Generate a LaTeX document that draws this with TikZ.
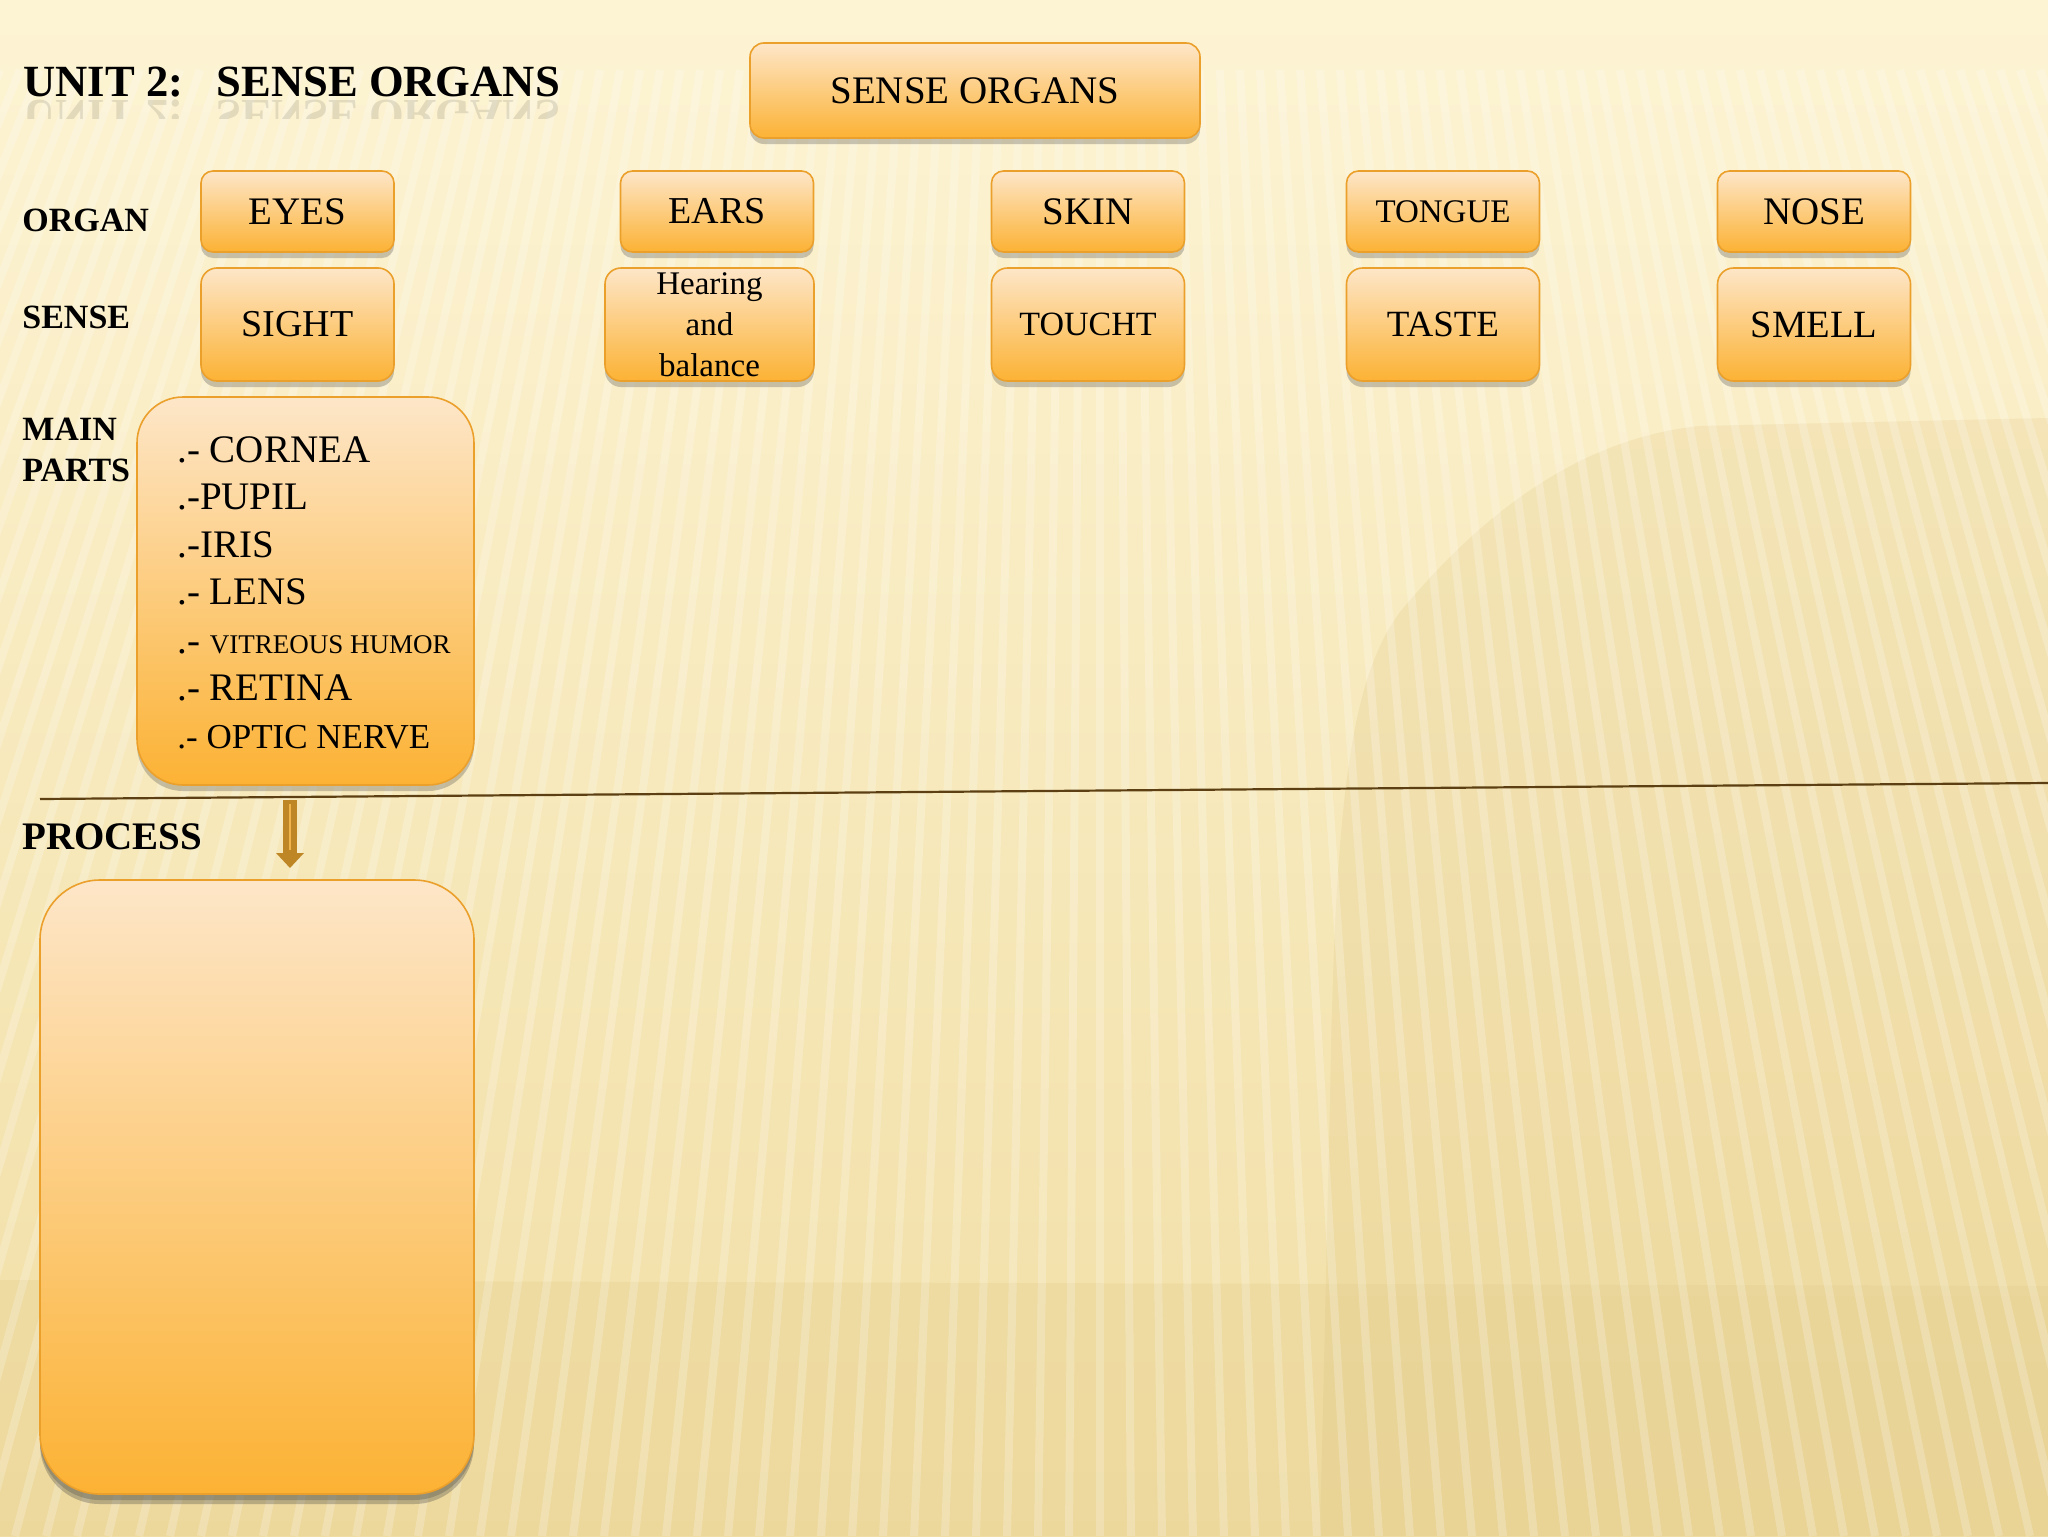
\documentclass[tikz,border=0pt]{standalone}
\usepackage{fontspec}
\setmainfont{Liberation Serif}
\usetikzlibrary{shadows,calc,arrows.meta}

\definecolor{boxtop}{HTML}{FDE6C8}
\definecolor{boxbot}{HTML}{FCB234}
\definecolor{boxedge}{HTML}{EBA02C}
\definecolor{bgtop}{HTML}{FDF4D4}
\definecolor{bgbot}{HTML}{F1DEA4}
\definecolor{hill}{HTML}{DCC07A}
\definecolor{rulec}{HTML}{5C3F12}
\definecolor{arrowc}{HTML}{BF8626}
\definecolor{arrowl}{HTML}{EFB44C}

\newcommand{\fsz}[1]{\fontsize{#1}{#1}\selectfont}

\tikzset{
  obox/.style={draw=boxedge, line width=0.8pt, top color=boxtop, bottom color=boxbot,
    rounded corners=#1, inner sep=0pt, align=center,
    drop shadow={shadow xshift=0pt, shadow yshift=-3pt, opacity=0.28, fill=black!75}},
  rowlabel/.style={anchor=base west, inner sep=0pt, font=\bfseries\fsz{17}},
  listitem/.style={anchor=base west, inner sep=0pt, font=\fsz{19.5}},
  stripe/.style={white, opacity=0.22, line width=4pt},
  orgbox/.style={obox=6pt, minimum width=96.5pt, minimum height=40.5pt},
  senbox/.style={obox=8pt, minimum width=96.5pt, minimum height=56.5pt},
}

\begin{document}
\begin{tikzpicture}[x=0.5pt, y=-0.5pt]
\useasboundingbox (0,0) rectangle (2048,1536);
% background
\shade[top color=bgtop, bottom color=bgbot] (0,0) rectangle (2048,1536);
\fill[hill, opacity=0.2] (1320,1536) -- (1330,1100) .. controls (1335,800) and (1350,680) .. (1400,612)
  .. controls (1460,540) and (1560,440) .. (1700,426) -- (2048,418) -- (2048,1536) -- cycle;
\fill[hill, opacity=0.18] (0,1536) -- (0,1280) -- (2048,1286) -- (2048,1536) -- cycle;
\begin{scope}
\clip (0,70) rectangle (2048,1536);
\foreach \k in {-62,...,48}{
  \draw[stripe] ({1100+\k*20},70) -- ({1100+\k*31},1536);
}
\end{scope}

% title and its reflection
\node[anchor=base west, inner sep=0pt, font=\bfseries\fsz{22.3}] (title) at (23,97) {UNIT 2:\hspace{0.75em}SENSE ORGANS};
\begin{scope}
\clip (0,100) rectangle (620,118);
\node[anchor=base west, inner sep=0pt, opacity=0.1, font=\bfseries\fsz{22.3}] (titlerefl) at (23,101) {\scalebox{1}[-1]{UNIT 2:\hspace{0.75em}SENSE ORGANS}};
\end{scope}

% top box
\node[obox=7pt, minimum width=225pt, minimum height=47.5pt, font=\fsz{19.5}] (organs) at (975,90.5) {SENSE ORGANS};

% row labels
\node[rowlabel] (lorgan) at (22,231) {ORGAN};
\node[rowlabel] (lsense) at (22,328) {SENSE};
\node[rowlabel] (lmain) at (22,440) {MAIN};
\node[rowlabel] (lparts) at (22,481) {PARTS};
\node[rowlabel, font=\bfseries\fsz{19.5}] (lprocess) at (22,849) {PROCESS};

% organ row
\node[orgbox, font=\fsz{19.5}] (eyes) at (297.5,211.5) {EYES};
\node[orgbox, font=\fsz{19}] (ears) at (717,211.5) {EARS};
\node[orgbox, font=\fsz{19.5}] (skin) at (1088,211.5) {SKIN};
\node[orgbox, font=\fsz{16.5}] (tongue) at (1443,211.5) {TONGUE};
\node[orgbox, font=\fsz{19.5}] (nose) at (1814,211.5) {NOSE};

% sense row
\node[senbox, font=\fsz{19}] (sight) at (297.5,324.5) {SIGHT};
\node[senbox, minimum width=104.5pt, font=\fontsize{16.5}{20.5}\selectfont] (hearing) at (709.5,324.5) {Hearing\\and\\balance};
\node[senbox, font=\fsz{17}] (touch) at (1088,324.5) {TOUCHT};
\node[senbox, font=\fsz{18.5}] (taste) at (1443,324.5) {TASTE};
\node[senbox, font=\fsz{19.3}] (smell) at (1814,324.5) {SMELL};

% main parts box
\node[obox=23pt, minimum width=168.5pt, minimum height=194pt] (parts) at (305.5,591) {};
\node[listitem] (p1) at (177,462) {.- CORNEA};
\node[listitem] (p2) at (177,509) {.-PUPIL};
\node[listitem] (p3) at (177,557) {.-IRIS};
\node[listitem] (p4) at (177,604) {.- LENS};
\node[listitem] (p5) at (177,653) {.- {\fsz{13.5}VITREOUS HUMOR}};
\node[listitem] (p6) at (177,700) {.- RETINA};
\node[listitem, font=\fsz{17.5}] (p7) at (177,748) {.- OPTIC NERVE};

% divider line
\coordinate (ruleL) at (40,799);
\coordinate (ruleR) at (2048,783);
\draw[rulec, line width=1.1pt] (ruleL) -- (ruleR);

% process box
\node[obox=30pt, minimum width=217pt, minimum height=307pt,
  drop shadow={shadow xshift=0pt, shadow yshift=-5pt, opacity=0.3, fill=black!75}] (process) at (257,1187) {};

% arrow
\coordinate (arrtop) at (290,800);
\coordinate (arrtip) at (290,868);
\draw[arrowc, line width=7pt, -{Triangle[width=13.5pt,length=7.5pt]}] (arrtop) -- (arrtip);
\draw[arrowl, line width=1.3pt] ($(arrtop)+(0,4)$) -- ($(arrtip)+(0,-18)$);
\end{tikzpicture}
\end{document}
